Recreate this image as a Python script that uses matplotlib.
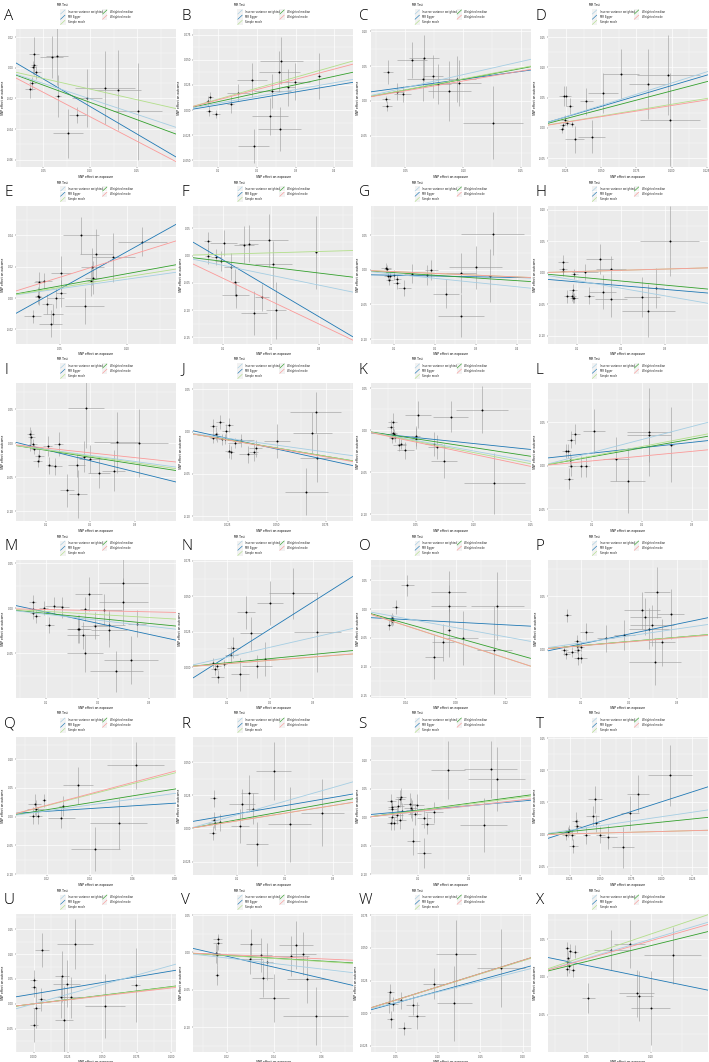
import matplotlib
matplotlib.use("Agg")
import matplotlib.pyplot as plt
from matplotlib.patches import Rectangle
from matplotlib.lines import Line2D
from matplotlib.ticker import AutoMinorLocator, FixedLocator, FixedFormatter

plt.rcParams['axes.unicode_minus'] = False
plt.rcParams['font.family'] = ['DejaVu Sans']

METHODS = ["Inverse variance weighted", "MR Egger", "Simple mode", "Weighted median", "Weighted mode"]
COLORS = ["#a6cee3", "#1f78b4", "#b2df8a", "#33a02c", "#fb9a99"]

# ---------------- data: slopes order = IVW, Egger, Simple mode, W median, W mode
A_x = [0.0401, 0.0391, 0.0401, 0.0423, 0.0384, 0.0356, 0.0588, 0.0644, 0.0655, 0.0863, 0.0768, 0.0965, 0.1162, 0.1296, 0.1507]
A_y = [0.0091, 0.0004, 0.0017, -0.0028, -0.0102, -0.0140, 0.0071, 0.0080, -0.0184, -0.0307, -0.0426, -0.0199, -0.0130, -0.0143, -0.0285]
A_xse = [0.005, 0.0035, 0.0035, 0.005, 0.0035, 0.005, 0.012, 0.012, 0.0035, 0.0088, 0.016, 0.016, 0.032, 0.025, 0.026]
A_yse = [0.011, 0.0043, 0.0065, 0.0043, 0.0043, 0.0054, 0.014, 0.019, 0.014, 0.0054, 0.016, 0.019, 0.024, 0.026, 0.032]
A_b = [-0.203, -0.360, -0.139, -0.226, -0.320]; A_a = 0.0107
A_xlim = (0.0208, 0.1915); A_ylim = (-0.0648, 0.0254)
A_xt = [0.05, 0.10, 0.15]; A_yt = [-0.06, -0.04, -0.02, 0.0, 0.02]

B_x = [0.0759, 0.074, 0.0793, 0.093, 0.132, 0.152, 0.187, 0.191, 0.233, 0.240, 0.258, 0.263, 0.259, 0.280, 0.297, 0.360]
B_y = [-0.0007, 0.009, 0.0127, -0.0043, 0.0057, 0.0173, 0.0297, -0.036, -0.0063, 0.0187, 0.0383, 0.0493, -0.019, 0.0227, 0.0283, 0.034]
B_xse = [0.0086, 0.0069, 0.0069, 0.0103, 0.0086, 0.030, 0.039, 0.039, 0.047, 0.047, 0.052, 0.056, 0.056, 0.017, 0.039, 0.0043]
B_yse = [0.005, 0.005, 0.005, 0.004, 0.0083, 0.0083, 0.0167, 0.0167, 0.0183, 0.0167, 0.02, 0.0233, 0.0217, 0.0183, 0.0183, 0.0233]
B_b = [0.068, 0.0645, 0.109, 0.084, 0.102]; B_a = -0.0013
B_xlim = (0.035, 0.449); B_ylim = (-0.0567, 0.0807)
B_xt = [0.1, 0.2, 0.3, 0.4]; B_yt = [-0.05, -0.025, 0.0, 0.025, 0.05, 0.075]

C_x = [0.0354, 0.0331, 0.0343, 0.0429, 0.0477, 0.0557, 0.066, 0.0654, 0.0737, 0.078, 0.088, 0.0949, 0.0966, 0.1255]
C_y = [0.0414, 0.0024, -0.0076, 0.0133, 0.01, 0.059, 0.0614, 0.031, 0.0352, 0.0243, 0.0143, 0.031, 0.0257, -0.0314]
C_xse = [0.0043, 0.0034, 0.0043, 0.0057, 0.0072, 0.0129, 0.0129, 0.0143, 0.0086, 0.0114, 0.0186, 0.0157, 0.0186, 0.0257]
C_yse = [0.0167, 0.0048, 0.0071, 0.0119, 0.0119, 0.0262, 0.0333, 0.0309, 0.0309, 0.0286, 0.0428, 0.0333, 0.0333, 0.0524]
C_b = [0.377, 0.2275, 0.316, 0.31, 0.286]; C_a = 0.0083
C_xlim = (0.02, 0.158); C_ylim = (-0.0952, 0.1033)
C_xt = [0.05, 0.10, 0.15]; C_yt = [-0.05, 0.0, 0.05, 0.10]

D_x = [0.0234, 0.025, 0.0276, 0.0241, 0.0229, 0.022, 0.0257, 0.029, 0.0311, 0.0395, 0.0433, 0.0512, 0.0643, 0.0835, 0.0978, 0.099]
D_y = [0.052, 0.052, 0.036, 0.0126, 0.0044, -0.0027, 0.0082, 0.0066, -0.0192, 0.0439, -0.0143, 0.0576, 0.0895, 0.0725, 0.0873, 0.0132]
D_xse = [0.0035, 0.0035, 0.0023, 0.0023, 0.0019, 0.0019, 0.0019, 0.0019, 0.007, 0.0047, 0.0094, 0.0105, 0.0129, 0.014, 0.0222, 0.0211]
D_yse = [0.0165, 0.0165, 0.0137, 0.0082, 0.0055, 0.0055, 0.0055, 0.0055, 0.022, 0.022, 0.0275, 0.033, 0.0412, 0.0576, 0.0659, 0.0769]
D_b = [0.742, 0.691, 0.39, 0.612, 0.37]; D_a = 0.0009
D_xlim = (0.0121, 0.1257); D_ylim = (-0.0648, 0.1637)
D_xt = [0.025, 0.05, 0.075, 0.1, 0.125]; D_yt = [-0.05, 0.0, 0.05, 0.10, 0.15]

E_x = [0.0294, 0.0336, 0.0339, 0.0341, 0.0378, 0.0401, 0.0431, 0.045, 0.0468, 0.0505, 0.051, 0.0659, 0.0684, 0.0736, 0.0748, 0.0743, 0.0773, 0.09, 0.1118]
E_y = [-0.0117, 0.0015, 0.0008, 0.010, 0.0108, -0.0038, -0.0163, -0.0102, 0.0002, 0.003, 0.0159, 0.0399, -0.0051, 0.011, 0.0131, 0.0201, 0.028, 0.0259, 0.036]
E_xse = [0.0062, 0.0025, 0.0025, 0.0037, 0.0062, 0.0037, 0.0087, 0.0074, 0.0062, 0.0037, 0.0074, 0.0136, 0.0149, 0.0037, 0.0062, 0.0087, 0.0124, 0.0161, 0.0186]
E_yse = [0.0042, 0.0053, 0.0053, 0.0064, 0.0053, 0.0064, 0.0085, 0.0064, 0.0064, 0.0085, 0.0106, 0.0117, 0.0117, 0.0095, 0.0106, 0.0117, 0.0159, 0.0159, 0.0095]
E_b = [0.12, 0.473, 0.135, 0.155, 0.266]; E_a = -0.0178
E_xlim = (0.017, 0.137); E_ylim = (-0.0293, 0.0587)
E_xt = [0.05, 0.10]; E_yt = [-0.02, 0.0, 0.02, 0.04]

F_x = [0.0674, 0.068, 0.0847, 0.0958, 0.1007, 0.116, 0.125, 0.1257, 0.143, 0.1527, 0.1638, 0.1805, 0.1944, 0.2041, 0.2097, 0.2943]
F_y = [0.0275, -0.0006, -0.0024, -0.0098, 0.0232, -0.0201, -0.0494, -0.072, 0.0201, 0.022, -0.1055, -0.0769, 0.0281, -0.0159, -0.1007, 0.0061]
F_xse = [0.0069, 0.0069, 0.0104, 0.0139, 0.0278, 0.0139, 0.0069, 0.0278, 0.0208, 0.0208, 0.0278, 0.0139, 0.0416, 0.0382, 0.0208, 0.002]
F_yse = [0.0153, 0.0153, 0.0153, 0.0183, 0.0244, 0.0244, 0.0244, 0.0244, 0.0336, 0.0336, 0.0397, 0.0244, 0.0488, 0.0427, 0.0519, 0.0671]
F_b = [-0.181, -0.521, 0.025, -0.107, -0.419]; F_a = 0.0439
F_xlim = (0.0375, 0.371); F_ylim = (-0.1622, 0.0909)
F_xt = [0.1, 0.2, 0.3]; F_yt = [-0.15, -0.10, -0.05, 0.0, 0.05]

G_x = [0.0807, 0.0847, 0.0855, 0.0903, 0.0895, 0.1, 0.1073, 0.1089, 0.1258, 0.1451, 0.1814, 0.1919, 0.2282, 0.2653, 0.2644, 0.3007, 0.3354, 0.3418]
G_y = [0.0024, 0.0014, -0.0087, -0.0091, -0.0154, -0.0077, -0.0188, -0.0135, -0.026, -0.0053, -0.0077, -0.0005, -0.0342, -0.0043, -0.0664, 0.0034, -0.0087, 0.0524]
G_xse = [0.0121, 0.0081, 0.0081, 0.0081, 0.0081, 0.0202, 0.0081, 0.0081, 0.0161, 0.0202, 0.0242, 0.0161, 0.0322, 0.0363, 0.0564, 0.0645, 0.004, 0.0766]
G_yse = [0.0072, 0.0058, 0.0058, 0.0058, 0.0058, 0.0072, 0.0096, 0.0072, 0.012, 0.0144, 0.0144, 0.0144, 0.0216, 0.0289, 0.0313, 0.0313, 0.0385, 0.0313]
G_b = [-0.061, -0.011, -0.0255, -0.039, -0.0255]; G_a = -0.0067
G_xlim = (0.0436, 0.434); G_ylim = (-0.1072, 0.0923)
G_xt = [0.1, 0.2, 0.3, 0.4]; G_yt = [-0.10, -0.05, 0.0, 0.05]

H_x = [0.0695, 0.0695, 0.0688, 0.0948, 0.0785, 0.0889, 0.0911, 0.0926, 0.0948, 0.1193, 0.1282, 0.152, 0.1587, 0.178, 0.178, 0.2471, 0.2627, 0.2798, 0.3111]
H_y = [0.0174, 0.0068, 0.0026, -0.0016, -0.0373, -0.0368, -0.0279, -0.0395, -0.0405, 0.0016, -0.0363, 0.0221, -0.0305, 0.0053, -0.0416, -0.0379, -0.06, -0.0242, 0.0505]
H_xse = [0.0111, 0.0089, 0.0074, 0.0074, 0.0074, 0.0089, 0.0089, 0.0074, 0.0074, 0.0297, 0.0111, 0.0297, 0.0297, 0.0334, 0.0372, 0.0409, 0.0594, 0.0186, 0.0669]
H_yse = [0.0105, 0.0105, 0.0079, 0.0079, 0.0105, 0.0079, 0.0105, 0.0079, 0.0079, 0.0132, 0.0132, 0.0237, 0.0263, 0.021, 0.0289, 0.0316, 0.0421, 0.0316, 0.0552]
H_b = [-0.122, -0.0597, 0.02, -0.065, 0.02]; H_a = -0.0084
H_xlim = (0.0346, 0.397); H_ylim = (-0.1132, 0.1063)
H_xt = [0.1, 0.2, 0.3]; H_yt = [-0.10, -0.05, 0.0, 0.05, 0.10]

I_x = [0.0646, 0.0667, 0.0707, 0.0636, 0.0737, 0.0848, 0.0818, 0.104, 0.1071, 0.1202, 0.1283, 0.1687, 0.1475, 0.1727, 0.1848, 0.19, 0.2, 0.2192, 0.2525, 0.2596, 0.3091]
I_y = [0.014, 0.009, -0.0005, -0.004, -0.0085, -0.018, -0.0255, -0.004, -0.032, -0.0335, -0.001, -0.032, -0.0695, -0.0745, -0.0195, 0.0525, -0.023, -0.043, -0.0405, 0.0015, 0.0005]
I_xse = [0.0081, 0.0081, 0.0081, 0.0081, 0.0081, 0.0101, 0.0101, 0.0101, 0.0081, 0.0152, 0.0101, 0.0202, 0.0152, 0.0202, 0.0152, 0.0404, 0.0253, 0.0253, 0.0253, 0.0505, 0.0657]
I_yse = [0.01, 0.01, 0.0075, 0.0075, 0.0075, 0.01, 0.01, 0.015, 0.0125, 0.0125, 0.0175, 0.0175, 0.025, 0.035, 0.0225, 0.06, 0.02, 0.0225, 0.03, 0.045, 0.05]
I_b = [-0.089, -0.162, -0.095, -0.102, -0.07]; I_a = 0.0067
I_xlim = (0.0323, 0.393); I_ylim = (-0.1145, 0.089)
I_xt = [0.1, 0.2, 0.3]; I_yt = [-0.10, -0.05, 0.0, 0.05]

J_x = [0.0177, 0.0188, 0.0175, 0.0193, 0.021, 0.0219, 0.0237, 0.0241, 0.0257, 0.0254, 0.0265, 0.0285, 0.0318, 0.0353, 0.0382, 0.0393, 0.05, 0.0681, 0.0697, 0.0705, 0.065]
J_y = [0.0069, -0.0024, -0.0081, -0.0069, 0.0113, -0.0093, -0.0085, 0.0004, 0.0081, -0.0226, -0.0246, -0.0133, -0.0105, -0.0266, -0.0246, -0.0197, -0.0109, -0.0012, 0.0226, -0.0314, -0.0709]
J_xse = [0.0018, 0.0018, 0.0018, 0.0018, 0.0022, 0.0018, 0.0018, 0.0022, 0.0022, 0.0018, 0.0018, 0.0033, 0.0066, 0.0044, 0.0022, 0.0033, 0.0066, 0.0099, 0.0132, 0.0088, 0.011]
J_yse = [0.0081, 0.0081, 0.006, 0.006, 0.0081, 0.006, 0.006, 0.0081, 0.0081, 0.0081, 0.0081, 0.006, 0.0081, 0.0101, 0.0101, 0.0101, 0.0202, 0.0242, 0.0242, 0.0282, 0.0282]
J_b = [-0.322, -0.504, -0.39, -0.39, -0.4]; J_a = 0.0045
J_xlim = (0.0074, 0.0889); J_ylim = (-0.1056, 0.0573)
J_xt = [0.025, 0.05, 0.075]; J_yt = [-0.10, -0.05, 0.0, 0.05]

K_x = [0.0276, 0.0295, 0.0299, 0.0306, 0.0318, 0.0291, 0.0352, 0.0371, 0.0405, 0.0496, 0.0496, 0.0519, 0.0652, 0.0682, 0.0743, 0.08, 0.1074, 0.1184]
K_y = [0.004, 0.0101, -0.004, -0.0048, -0.0081, -0.0097, -0.0173, -0.0165, -0.0238, -0.0069, -0.0101, 0.0181, -0.0165, -0.0197, -0.0367, 0.0161, 0.0242, -0.0629]
K_xse = [0.003, 0.0038, 0.003, 0.003, 0.0057, 0.003, 0.0057, 0.0038, 0.0076, 0.0038, 0.0038, 0.0114, 0.0076, 0.0076, 0.0114, 0.0152, 0.0228, 0.0266]
K_yse = [0.0081, 0.0101, 0.006, 0.006, 0.006, 0.006, 0.0081, 0.006, 0.0101, 0.0121, 0.0121, 0.0161, 0.0141, 0.0141, 0.0202, 0.0181, 0.0282, 0.0363]
K_b = [-0.247, -0.141, -0.266, -0.207, -0.287]; K_a = -0.0018
K_xlim = (0.01, 0.15); K_ylim = (-0.108, 0.056)
K_xt = [0.05, 0.10, 0.15]; K_yt = [-0.10, -0.05, 0.0, 0.05]

L_x = [0.0487, 0.0522, 0.0565, 0.0548, 0.0591, 0.06, 0.0678, 0.0783, 0.0896, 0.1044, 0.1479, 0.1713, 0.214, 0.214, 0.2583]
L_y = [0.0171, 0.0171, 0.0066, -0.0147, 0.0295, 0.0, 0.0365, -0.0008, -0.0008, 0.04, 0.0078, -0.0171, 0.0388, 0.0349, 0.0241]
L_xse = [0.007, 0.007, 0.007, 0.0087, 0.0087, 0.007, 0.0087, 0.013, 0.007, 0.0218, 0.0261, 0.0348, 0.0435, 0.0435, 0.0044]
L_yse = [0.0078, 0.0078, 0.0078, 0.0116, 0.0097, 0.0116, 0.0116, 0.0116, 0.0116, 0.0252, 0.0252, 0.0369, 0.0504, 0.031, 0.0427]
L_b = [0.15, 0.0624, 0.11, 0.102, 0.055]; L_a = 0.0081
L_xlim = (0.013, 0.3305); L_ylim = (-0.0632, 0.0946)
L_xt = [0.1, 0.2, 0.3]; L_yt = [-0.05, 0.0, 0.05]

M_x = [0.0739, 0.0739, 0.0756, 0.0809, 0.0957, 0.1148, 0.1313, 0.1061, 0.1618, 0.1644, 0.1713, 0.1748, 0.1827, 0.1757, 0.194, 0.2122, 0.2218, 0.2218, 0.2366, 0.2496, 0.2496, 0.2653, 0.2757]
M_y = [0.0072, -0.0004, -0.0057, -0.0083, 0.0004, 0.003, 0.0011, -0.0185, -0.023, -0.023, -0.0298, -0.0008, 0.0158, -0.0498, -0.0192, -0.0015, -0.0185, -0.0245, -0.0701, 0.0283, 0.0075, -0.0573, -0.0173]
M_xse = [0.007, 0.007, 0.007, 0.007, 0.0087, 0.0174, 0.0131, 0.0087, 0.0218, 0.0218, 0.0305, 0.0087, 0.0261, 0.0348, 0.0261, 0.0348, 0.0305, 0.0348, 0.0522, 0.0479, 0.0479, 0.0522, 0.0174]
M_yse = [0.0075, 0.0057, 0.0057, 0.0075, 0.0075, 0.0094, 0.0113, 0.0094, 0.0151, 0.0151, 0.0151, 0.0132, 0.0189, 0.0207, 0.0151, 0.017, 0.017, 0.0189, 0.0226, 0.0302, 0.0264, 0.0264, 0.0151]
M_b = [-0.066, -0.124, -0.034, -0.056, -0.013]; M_a = 0.0082
M_xlim = (0.0417, 0.352); M_ylim = (-0.0998, 0.0538)
M_xt = [0.1, 0.2, 0.3]; M_yt = [-0.05, 0.0, 0.05]

N_x = [0.0678, 0.0729, 0.078, 0.0799, 0.093, 0.111, 0.1151, 0.1312, 0.1452, 0.1563, 0.1704, 0.1905, 0.2015, 0.2538, 0.3111]
N_y = [0.0031, -0.0017, 0.0007, -0.0067, 0.0024, 0.0088, 0.0138, -0.0052, 0.0386, 0.0238, 0.0005, 0.0055, 0.0455, 0.0521, 0.0248]
N_xse = [0.008, 0.01, 0.008, 0.0151, 0.008, 0.0151, 0.0151, 0.0201, 0.0201, 0.0251, 0.0352, 0.0251, 0.0302, 0.0553, 0.0553]
N_yse = [0.0036, 0.0036, 0.0029, 0.0048, 0.0029, 0.006, 0.0071, 0.0119, 0.0119, 0.0119, 0.0083, 0.0119, 0.0155, 0.0179, 0.0286]
N_b = [0.0694, 0.1933, 0.0235, 0.0296, 0.0235]; N_a = -0.012
N_xlim = (0.0226, 0.3945); N_ylim = (-0.0219, 0.0757)
N_xt = [0.1, 0.2, 0.3]; N_yt = [0.0, 0.025, 0.05, 0.075]

O_x = [0.0283, 0.0293, 0.0303, 0.0272, 0.0297, 0.0324, 0.0417, 0.0628, 0.0697, 0.0745, 0.0745, 0.0745, 0.0855, 0.1107, 0.1131]
O_y = [-0.0188, -0.0212, -0.0194, -0.0282, -0.0159, 0.0041, 0.0412, -0.0823, -0.0576, 0.0306, 0.0059, -0.0365, -0.0506, -0.0706, 0.0059]
O_xse = [0.0017, 0.0017, 0.0017, 0.0017, 0.0017, 0.0028, 0.0052, 0.0069, 0.0086, 0.0138, 0.0138, 0.0017, 0.0121, 0.0138, 0.0207]
O_yse = [0.0088, 0.0088, 0.0088, 0.0088, 0.0088, 0.0118, 0.0176, 0.0382, 0.0323, 0.0353, 0.0353, 0.047, 0.047, 0.0764, 0.0588]
O_b = [-0.401, -0.116, -0.709, -0.612, -0.709]; O_a = -0.0133
O_xlim = (0.0124, 0.1393); O_ylim = (-0.1541, 0.0853)
O_xt = [0.04, 0.08, 0.12]; O_yt = [-0.15, -0.10, -0.05, 0.0, 0.05]

P_x = [0.0718, 0.0664, 0.07, 0.0818, 0.0927, 0.0927, 0.0936, 0.1, 0.0955, 0.1, 0.1118, 0.1518, 0.1909, 0.2273, 0.2345, 0.2418, 0.2473, 0.2545, 0.2582, 0.2682, 0.2864]
P_y = [0.0322, 0.0, -0.0035, -0.0019, 0.0032, 0.0079, 0.0, 0.0025, -0.0079, -0.0079, 0.0171, 0.0107, 0.0139, 0.037, 0.031, 0.0199, 0.0228, -0.0111, 0.0537, 0.007, 0.0335]
P_xse = [0.0073, 0.0073, 0.0073, 0.0091, 0.0073, 0.0073, 0.0073, 0.0073, 0.0073, 0.0136, 0.0136, 0.0182, 0.0227, 0.0364, 0.0318, 0.0409, 0.0455, 0.0545, 0.0273, 0.0273, 0.0273]
P_yse = [0.0063, 0.0047, 0.0047, 0.0047, 0.0063, 0.0063, 0.0047, 0.0047, 0.0063, 0.0047, 0.0079, 0.0126, 0.0142, 0.0174, 0.0174, 0.019, 0.019, 0.0221, 0.0237, 0.0221, 0.0237]
P_b = [0.065, 0.0931, 0.039, 0.039, 0.037]; P_a = -0.0039
P_xlim = (0.0318, 0.3636); P_ylim = (-0.0449, 0.0838)
P_xt = [0.1, 0.2, 0.3]; P_yt = [0.0, 0.05]

Q_x = [0.0136, 0.0144, 0.0148, 0.0157, 0.0186, 0.0268, 0.0278, 0.0346, 0.0427, 0.0536, 0.0616]
Q_y = [0.0012, 0.0212, 0.0141, 0.0012, 0.0282, -0.0029, 0.0182, 0.0541, -0.0565, -0.0112, 0.0888]
Q_xse = [0.0021, 0.0031, 0.0041, 0.0021, 0.001, 0.0062, 0.0021, 0.0072, 0.0113, 0.0134, 0.0134]
Q_yse = [0.0147, 0.0176, 0.0147, 0.0147, 0.0118, 0.0176, 0.0176, 0.0323, 0.0382, 0.0441, 0.0412]
Q_b = [0.505, 0.235, 0.95, 0.6, 0.988]; Q_a = 0.0046
Q_xlim = (0.0056, 0.0804); Q_ylim = (-0.1012, 0.1382)
Q_xt = [0.02, 0.04, 0.06, 0.08]; Q_yt = [-0.10, -0.05, 0.0, 0.05, 0.10]

R_x = [0.0505, 0.0514, 0.0532, 0.0487, 0.0631, 0.1054, 0.1099, 0.1252, 0.1324, 0.1414, 0.1756, 0.2089, 0.2773]
R_y = [0.023, 0.0064, 0.0038, -0.0033, 0.0046, 0.002, 0.0182, 0.0266, 0.0151, -0.0118, 0.0435, 0.0031, 0.012]
R_xse = [0.0072, 0.0072, 0.0135, 0.0072, 0.0072, 0.018, 0.027, 0.018, 0.0135, 0.0225, 0.036, 0.045, 0.045]
R_yse = [0.0064, 0.0064, 0.0051, 0.0051, 0.0064, 0.0128, 0.0115, 0.0141, 0.0115, 0.0166, 0.0218, 0.0282, 0.0256]
R_b = [0.1035, 0.0621, 0.058, 0.066, 0.058]; R_a = 0.0049
R_xlim = (0.0082, 0.3414); R_ylim = (-0.0352, 0.0692)
R_xt = [0.1, 0.2, 0.3]; R_yt = [-0.025, 0.0, 0.025, 0.05]

S_x = [0.0472, 0.0489, 0.0489, 0.0489, 0.0472, 0.0515, 0.0591, 0.0609, 0.0643, 0.066, 0.0677, 0.0651, 0.083, 0.0855, 0.088, 0.0898, 0.0932, 0.0983, 0.1111, 0.1111, 0.1179, 0.1306, 0.1579, 0.2277, 0.2413, 0.2532]
S_y = [0.0284, 0.0178, 0.0136, 0.0006, -0.0107, -0.0107, 0.003, 0.0195, 0.0326, 0.0361, 0.0101, -0.0053, 0.0237, 0.0166, 0.0118, -0.042, 0.0047, 0.0219, -0.0012, -0.0627, -0.0112, 0.0083, 0.0823, -0.0142, 0.0835, 0.0669]
S_xse = [0.0085, 0.0085, 0.0085, 0.0085, 0.0085, 0.0085, 0.0102, 0.0102, 0.0102, 0.0102, 0.0102, 0.0102, 0.0128, 0.0128, 0.0128, 0.0128, 0.0128, 0.0128, 0.0128, 0.0128, 0.0128, 0.017, 0.034, 0.0468, 0.0511, 0.0553]
S_yse = [0.0118, 0.0118, 0.0118, 0.0118, 0.0118, 0.0118, 0.0148, 0.0148, 0.0148, 0.0148, 0.0148, 0.0148, 0.0178, 0.0178, 0.0178, 0.0237, 0.0178, 0.0178, 0.0178, 0.0266, 0.0178, 0.0178, 0.0503, 0.0474, 0.0503, 0.0562]
S_b = [0.098, 0.0795, 0.115, 0.122, 0.10]; S_a = 0.0042
S_xlim = (0.0064, 0.3196); S_ylim = (-0.1012, 0.1403)
S_xt = [0.1, 0.2, 0.3]; S_yt = [-0.10, -0.05, 0.0, 0.05, 0.10]

T_x = [0.0218, 0.0236, 0.0243, 0.0268, 0.0279, 0.03, 0.0311, 0.0386, 0.0436, 0.0464, 0.0457, 0.05, 0.0564, 0.0686, 0.0743, 0.0807, 0.1071]
T_y = [0.0, 0.0047, 0.0068, 0.0, -0.0179, 0.0216, 0.0132, -0.0011, 0.0289, 0.0174, 0.0552, 0.0, -0.0032, -0.0195, 0.0337, 0.0636, 0.092]
T_xse = [0.0029, 0.0029, 0.0029, 0.0029, 0.0036, 0.0029, 0.0029, 0.0029, 0.0054, 0.0036, 0.0054, 0.0036, 0.0071, 0.0089, 0.0071, 0.0089, 0.0179]
T_yse = [0.0079, 0.0079, 0.0079, 0.0079, 0.0105, 0.0132, 0.0105, 0.0132, 0.0158, 0.0132, 0.021, 0.0132, 0.0184, 0.0316, 0.0263, 0.0289, 0.0473]
T_b = [0.279, 0.6135, 0.05, 0.195, 0.05]; T_a = -0.0102
T_xlim = (0.0071, 0.1375); T_ylim = (-0.0626, 0.1516)
T_xt = [0.025, 0.05, 0.075, 0.1, 0.125]; T_yt = [-0.05, 0.0, 0.05, 0.10, 0.15]

U_x = [0.0, 0.0001, 0.002, 0.0003, 0.0055, 0.0062, 0.0205, 0.0202, 0.0221, 0.0241, 0.027, 0.0299, 0.0517, 0.0741]
U_y = [0.0473, 0.0338, -0.0074, -0.0419, 0.0088, 0.1088, 0.0554, 0.0128, -0.0318, 0.0406, 0.0128, 0.1203, -0.0047, 0.0385]
U_xse = [0.0026, 0.0016, 0.0026, 0.0026, 0.0026, 0.0049, 0.0049, 0.0033, 0.0065, 0.0098, 0.0065, 0.013, 0.0146, 0.0033]
U_yse = [0.0203, 0.0203, 0.0406, 0.0338, 0.0237, 0.0338, 0.0507, 0.0406, 0.0676, 0.0473, 0.0406, 0.0507, 0.0642, 0.0744]
U_b = [0.772, 0.46, 0.34, 0.347, 0.32]; U_a = 0.02
U_xlim = (-0.0127, 0.1033); U_ylim = (-0.0966, 0.1804)
U_xt = [0.0, 0.025, 0.05, 0.075, 0.1]; U_yt = [-0.05, 0.0, 0.05, 0.10, 0.15]

V_x = [0.0162, 0.0162, 0.0156, 0.0158, 0.0158, 0.0301, 0.0297, 0.0345, 0.0352, 0.037, 0.0399, 0.0473, 0.0493, 0.0522, 0.0539, 0.0577]
V_y = [0.0185, 0.0126, -0.0005, -0.0032, -0.0297, 0.0113, -0.009, -0.0036, -0.0347, -0.0126, -0.0608, -0.005, 0.0099, -0.0014, -0.0356, -0.085]
V_xse = [0.0018, 0.0018, 0.0018, 0.0018, 0.0009, 0.0046, 0.0055, 0.0046, 0.0046, 0.0027, 0.0064, 0.0073, 0.0073, 0.0055, 0.0082, 0.0137]
V_yse = [0.0068, 0.009, 0.0135, 0.0135, 0.0135, 0.0203, 0.0203, 0.0225, 0.0248, 0.0248, 0.0315, 0.027, 0.0315, 0.0293, 0.0315, 0.0383]
V_b = [-0.367, -0.732, -0.2, -0.19, -0.141]; V_a = 0.0097
V_xlim = (0.0059, 0.0735); V_ylim = (-0.1329, 0.0514)
V_xt = [0.02, 0.04, 0.06]; V_yt = [-0.10, -0.05, 0.0, 0.05]

W_x = [0.0433, 0.0423, 0.0443, 0.0469, 0.0562, 0.0598, 0.0701, 0.0747, 0.0953, 0.119, 0.1211, 0.1746]
W_y = [0.016, 0.0077, -0.0046, 0.007, 0.0101, -0.0116, 0.0065, -0.0018, 0.0227, 0.0075, 0.0452, 0.0348]
W_xse = [0.0041, 0.0041, 0.0041, 0.0052, 0.0052, 0.0077, 0.0077, 0.0103, 0.0129, 0.0206, 0.0232, 0.0283]
W_yse = [0.0065, 0.0077, 0.0065, 0.0052, 0.0065, 0.0052, 0.0077, 0.0103, 0.0116, 0.0284, 0.0258, 0.0297]
W_b = [0.1625, 0.177, 0.2, 0.202, 0.202]; W_a = -0.001
W_xlim = (0.0201, 0.2093); W_ylim = (-0.0296, 0.0758)
W_xt = [0.05, 0.10, 0.15, 0.20]; W_yt = [-0.025, 0.0, 0.025, 0.05, 0.075]

X_x = [0.0345, 0.0365, 0.0403, 0.0348, 0.0345, 0.0355, 0.0345, 0.0386, 0.051, 0.069, 0.0835, 0.089, 0.0911, 0.1, 0.1173]
X_y = [0.0379, 0.0343, 0.0335, 0.0245, 0.0205, 0.0147, 0.0103, 0.0089, -0.0277, 0.0357, 0.0437, -0.0214, -0.0254, -0.041, 0.029]
X_xse = [0.0017, 0.0017, 0.0028, 0.0017, 0.0017, 0.0017, 0.0017, 0.0017, 0.0052, 0.0138, 0.0121, 0.0138, 0.0104, 0.0155, 0.0224]
X_yse = [0.0089, 0.0089, 0.0089, 0.0089, 0.0089, 0.0089, 0.0089, 0.0089, 0.0201, 0.0268, 0.0312, 0.0312, 0.0335, 0.0491, 0.0379]
X_b = [0.5, -0.344, 0.569, 0.415, 0.48]; X_a = 0.0324
X_xlim = (0.019, 0.1449); X_ylim = (-0.0995, 0.0835)
X_xt = [0.05, 0.10]; X_yt = [-0.10, -0.05, 0.0, 0.05]

PANELS = [
    ("A", A_x, A_y, A_xse, A_yse, A_b, A_a, A_xlim, A_ylim, A_xt, A_yt),
    ("B", B_x, B_y, B_xse, B_yse, B_b, B_a, B_xlim, B_ylim, B_xt, B_yt),
    ("C", C_x, C_y, C_xse, C_yse, C_b, C_a, C_xlim, C_ylim, C_xt, C_yt),
    ("D", D_x, D_y, D_xse, D_yse, D_b, D_a, D_xlim, D_ylim, D_xt, D_yt),
    ("E", E_x, E_y, E_xse, E_yse, E_b, E_a, E_xlim, E_ylim, E_xt, E_yt),
    ("F", F_x, F_y, F_xse, F_yse, F_b, F_a, F_xlim, F_ylim, F_xt, F_yt),
    ("G", G_x, G_y, G_xse, G_yse, G_b, G_a, G_xlim, G_ylim, G_xt, G_yt),
    ("H", H_x, H_y, H_xse, H_yse, H_b, H_a, H_xlim, H_ylim, H_xt, H_yt),
    ("I", I_x, I_y, I_xse, I_yse, I_b, I_a, I_xlim, I_ylim, I_xt, I_yt),
    ("J", J_x, J_y, J_xse, J_yse, J_b, J_a, J_xlim, J_ylim, J_xt, J_yt),
    ("K", K_x, K_y, K_xse, K_yse, K_b, K_a, K_xlim, K_ylim, K_xt, K_yt),
    ("L", L_x, L_y, L_xse, L_yse, L_b, L_a, L_xlim, L_ylim, L_xt, L_yt),
    ("M", M_x, M_y, M_xse, M_yse, M_b, M_a, M_xlim, M_ylim, M_xt, M_yt),
    ("N", N_x, N_y, N_xse, N_yse, N_b, N_a, N_xlim, N_ylim, N_xt, N_yt),
    ("O", O_x, O_y, O_xse, O_yse, O_b, O_a, O_xlim, O_ylim, O_xt, O_yt),
    ("P", P_x, P_y, P_xse, P_yse, P_b, P_a, P_xlim, P_ylim, P_xt, P_yt),
    ("Q", Q_x, Q_y, Q_xse, Q_yse, Q_b, Q_a, Q_xlim, Q_ylim, Q_xt, Q_yt),
    ("R", R_x, R_y, R_xse, R_yse, R_b, R_a, R_xlim, R_ylim, R_xt, R_yt),
    ("S", S_x, S_y, S_xse, S_yse, S_b, S_a, S_xlim, S_ylim, S_xt, S_yt),
    ("T", T_x, T_y, T_xse, T_yse, T_b, T_a, T_xlim, T_ylim, T_xt, T_yt),
    ("U", U_x, U_y, U_xse, U_yse, U_b, U_a, U_xlim, U_ylim, U_xt, U_yt),
    ("V", V_x, V_y, V_xse, V_yse, V_b, V_a, V_xlim, V_ylim, V_xt, V_yt),
    ("W", W_x, W_y, W_xse, W_yse, W_b, W_a, W_xlim, W_ylim, W_xt, W_yt),
    ("X", X_x, X_y, X_xse, X_yse, X_b, X_a, X_xlim, X_ylim, X_xt, X_yt),
]

# ---------------- layout (pixels)
W, H = 709, 1062
fig = plt.figure(figsize=(W / 100, H / 100), dpi=100)
fig.patch.set_facecolor("white")


def fx(px):
    return px / W


def fy(py):
    return 1 - py / H


def fmt_ticks(vals):
    dec = 0
    for v in vals:
        s = f"{abs(v):g}"
        if "." in s:
            dec = max(dec, len(s.split(".")[1]))
    out = []
    for v in vals:
        t = f"{v:.{dec}f}"
        if float(t) == 0:
            t = f"{0:.{dec}f}"
        out.append(t)
    return out


CELL_W, CELL_H = W / 4, 177.0
SMALL = 1.9

for i, (lab, xs, ys, xse, yse, bs, a_eg, xlim, ylim, xt, yt) in enumerate(PANELS):
    r, c = divmod(i, 4)
    x0 = c * CELL_W
    y0 = r * CELL_H

    ax = fig.add_axes([fx(x0 + 16), fy(y0 + 167), 160 / W, 138 / H])
    ax.set_facecolor("#EBEBEB")
    for s in ax.spines.values():
        s.set_visible(False)

    ax.errorbar(xs, ys, xerr=xse, yerr=yse, fmt="none", ecolor="#9a9a9a",
                elinewidth=0.4, capsize=0, zorder=2)
    ax.plot(xs, ys, "o", color="black", ms=1.4, mew=0, zorder=3)

    draw_order = [1, 3, 0, 2, 4]
    for k in draw_order:
        icpt = a_eg if k == 1 else 0.0
        ax.axline((0.0, icpt), slope=bs[k], color=COLORS[k], lw=0.6, zorder=4)

    ax.set_xlim(*xlim)
    ax.set_ylim(*ylim)
    ax.xaxis.set_major_locator(FixedLocator(xt))
    ax.xaxis.set_major_formatter(FixedFormatter(fmt_ticks(xt)))
    ax.yaxis.set_major_locator(FixedLocator(yt))
    ax.yaxis.set_major_formatter(FixedFormatter(fmt_ticks(yt)))
    ax.xaxis.set_minor_locator(AutoMinorLocator(2))
    ax.yaxis.set_minor_locator(AutoMinorLocator(2))
    ax.grid(which="major", color="white", lw=0.5)
    ax.grid(which="minor", color="white", lw=0.25)
    ax.set_axisbelow(True)
    ax.tick_params(which="major", labelsize=SMALL, length=1.0, width=0.3,
                   color="#333333", labelcolor="#4D4D4D", pad=0.8)
    ax.tick_params(which="minor", length=0)
    ax.set_xlabel("SNP effect on exposure", fontsize=2.2, labelpad=1.0)
    ax.set_ylabel("SNP effect on outcome", fontsize=2.2, labelpad=1.0)

    # panel letter
    fig.text(fx(x0 + 4), fy(y0 + 16), lab, fontsize=11, va="center", ha="left",
             family=["Open Sans", "DejaVu Sans"], fontweight="light", color="black")

    # legend (ggplot style)
    fig.text(fx(x0 + 57), fy(y0 + 5.5), "MR Test", fontsize=2.0, va="center", ha="left")
    cols = [(0, [0, 1, 2]), (1, [3, 4])]
    for ci, idxs in cols:
        kx = x0 + (60 if ci == 0 else 102)
        tx = x0 + (68 if ci == 0 else 110)
        for ri, k in enumerate(idxs):
            rc = y0 + 12 + ri * 5.2
            fig.add_artist(Rectangle((fx(kx), fy(rc + 2.5)), 5.5 / W, 5 / H,
                                     transform=fig.transFigure, facecolor="#F2F2F2",
                                     edgecolor="none"))
            fig.add_artist(Line2D([fx(kx + 0.6), fx(kx + 4.9)], [fy(rc + 2.0), fy(rc - 2.0)],
                                  transform=fig.transFigure, color=COLORS[k], lw=0.45))
            fig.text(fx(tx), fy(rc), METHODS[k], fontsize=SMALL, va="center", ha="left",
                     color="#222222")

fig.savefig("out.png", dpi=100, facecolor="white")
